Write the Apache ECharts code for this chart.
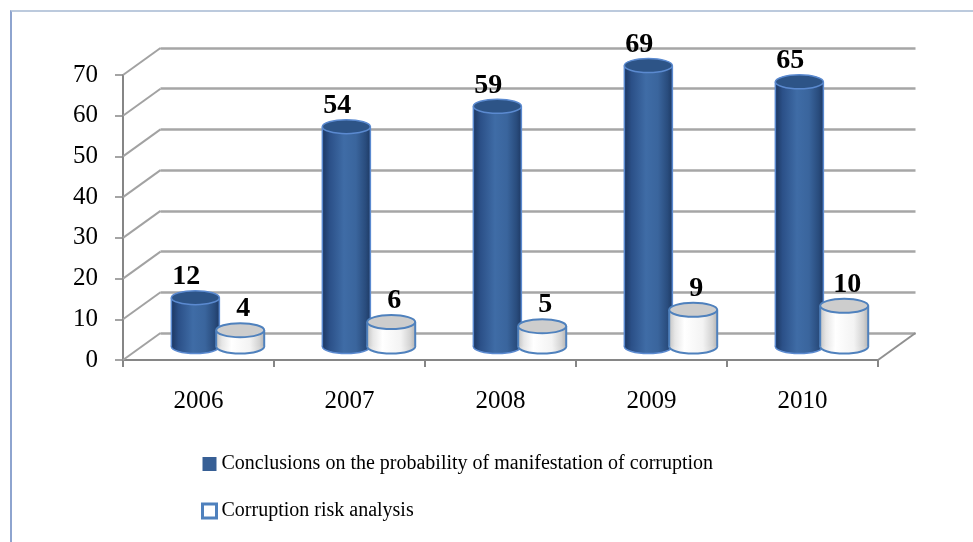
<!DOCTYPE html>
<html>
<head>
<meta charset="utf-8">
<script src="https://cdn.jsdelivr.net/npm/echarts@6/dist/echarts.min.js"></script>
<style>
  html, body { margin: 0; padding: 0; background: #fff; }
  #frame { position: absolute; left: 10px; top: 10px; width: 980px; height: 600px;
           border-top: 2px solid #bccadd; border-left: 2px solid #8ea4cf; }
  #main { position: absolute; left: 0; top: 0; width: 973px; height: 542px; }
</style>
</head>
<body>
<div id="frame"></div>
<div id="main"></div>
<script>
const years = ['2006', '2007', '2008', '2009', '2010'];
const conclusions = [12, 54, 59, 69, 65];
const riskAnalysis = [4, 6, 5, 9, 10];
const yTicks = [0, 10, 20, 30, 40, 50, 60, 70];

const nameA = 'Conclusions on the probability of manifestation of corruption';
const nameB = 'Corruption risk analysis';
const serif = "'Liberation Serif', 'Times New Roman', serif";

// 3d depth offset of the back wall
const DX = 37.5, DY = -27;

function grad(stops) {
  return {
    type: 'linear', x: 0, y: 0, x2: 1, y2: 0,
    colorStops: stops.map(s => ({ offset: s[0], color: s[1] }))
  };
}

const blueBody = grad([[0, '#1c3762'], [0.15, '#2b5088'], [0.45, '#3f6ca6'], [0.7, '#3a659d'], [0.9, '#294c7d'], [1, '#1e3a65']]);
const whiteBody = grad([[0, '#c4c4c4'], [0.12, '#e6e6e6'], [0.32, '#ffffff'], [0.7, '#f3f3f3'], [0.9, '#d2d2d2'], [1, '#b4b4b4']]);

function cylinder(look) {
  return function (params, api) {
    const idx = api.value(0);
    const v = api.value(1);
    const top = api.coord([idx, v]);
    const base = api.coord([idx, 0]);
    const band = api.size([1, 0])[0];
    const w = band * 0.318;
    const cx = top[0] + look.offset * band;
    const rx = w / 2, ry = 7;
    return {
      type: 'group',
      children: [
        { type: 'ellipse', shape: { cx: cx, cy: base[1], rx: rx, ry: ry },
          style: { fill: look.body, stroke: look.stroke, lineWidth: look.lw } },
        { type: 'rect', shape: { x: cx - rx, y: top[1], width: w, height: base[1] - top[1] },
          style: { fill: look.body } },
        { type: 'line', shape: { x1: cx - rx, y1: top[1], x2: cx - rx, y2: base[1] },
          style: { stroke: look.stroke, lineWidth: look.lw } },
        { type: 'line', shape: { x1: cx + rx, y1: top[1], x2: cx + rx, y2: base[1] },
          style: { stroke: look.stroke, lineWidth: look.lw } },
        { type: 'ellipse', shape: { cx: cx, cy: top[1], rx: rx, ry: ry },
          style: { fill: look.cap, stroke: look.stroke, lineWidth: look.lw } },
        { type: 'text', style: { text: String(v), x: cx + look.labelDx, y: top[1] - 21,
            align: 'center', verticalAlign: 'middle',
            font: 'bold 28px ' + serif, fill: '#000' } }
      ]
    };
  };
}

let chart = echarts.init(document.getElementById('main'));

let option = {
  animation: false,
  grid: [
    { left: 123, top: 75, width: 755, height: 285 },                       // front
    { left: 123 + DX, top: 75 + DY, width: 755, height: 285 },             // back wall
    { left: 123 + DX / 2, top: 75 + DY / 2, width: 755, height: 285 }      // bars
  ],
  xAxis: [
    {
      gridIndex: 0, type: 'category', data: years, boundaryGap: true,
      axisLine: { lineStyle: { color: '#868686', width: 2 } },
      axisTick: { show: true, length: 7, lineStyle: { color: '#868686', width: 2 } },
      axisLabel: { color: '#000', fontSize: 25, fontFamily: serif, margin: 29 }
    },
    { gridIndex: 1, type: 'category', data: years, show: false },
    { gridIndex: 2, type: 'category', data: years, show: false }
  ],
  yAxis: [
    {
      gridIndex: 0, type: 'value', min: 0, max: 70, interval: 10,
      axisLine: { show: true, lineStyle: { color: '#868686', width: 2 } },
      axisTick: { show: true, length: 8, lineStyle: { color: '#868686', width: 1.5 } },
      splitLine: { show: false },
      axisLabel: { color: '#000', fontSize: 25, fontFamily: serif, margin: 25 }
    },
    {
      gridIndex: 1, type: 'value', min: 0, max: 70, interval: 10,
      axisLine: { show: false }, axisTick: { show: false }, axisLabel: { show: false },
      splitLine: { show: true, lineStyle: { color: '#a6a6a6', width: 2.5 } }
    },
    { gridIndex: 2, type: 'value', min: 0, max: 70, interval: 10, show: false }
  ],
  legend: {
    orient: 'vertical', left: 201, top: 454, itemWidth: 14, itemHeight: 14, itemGap: 27,
    padding: 0,
    textStyle: { color: '#000', fontSize: 20, fontFamily: serif, lineHeight: 20 },
    data: [
      { name: nameA, icon: 'rect', itemStyle: { color: '#375f95', borderWidth: 0 } },
      { name: nameB, icon: 'rect', itemStyle: { color: '#ffffff', borderColor: '#4f81bd', borderWidth: 3 } }
    ]
  },
  series: [
    {
      // side wall and floor edges
      type: 'custom', xAxisIndex: 0, yAxisIndex: 0, silent: true,
      data: yTicks.map(v => [0, v]),
      renderItem: function (params, api) {
        const y = api.coord([0, api.value(1)])[1];
        const x0 = params.coordSys.x;
        const kids = [
          { type: 'line', shape: { x1: x0, y1: y, x2: x0 + DX, y2: y + DY },
            style: { stroke: '#a2a2a2', lineWidth: 2 } }
        ];
        if (api.value(1) === 0) {
          const x1 = x0 + params.coordSys.width;
          kids.push({ type: 'line', shape: { x1: x1, y1: y, x2: x1 + DX, y2: y + DY },
            style: { stroke: '#909090', lineWidth: 2 } });
        }
        return { type: 'group', children: kids };
      }
    },
    {
      name: nameA, type: 'custom', xAxisIndex: 2, yAxisIndex: 2,
      data: conclusions.map((v, i) => [i, v]),
      itemStyle: { color: '#375f95' },
      renderItem: cylinder({ offset: -0.145, body: blueBody, cap: '#2d5487', stroke: '#5b8ad0', lw: 1.5, labelDx: -9 })
    },
    {
      name: nameB, type: 'custom', xAxisIndex: 2, yAxisIndex: 2,
      data: riskAnalysis.map((v, i) => [i, v]),
      itemStyle: { color: '#ffffff' },
      renderItem: cylinder({ offset: 0.152, body: whiteBody, cap: '#cdcdcd', stroke: '#4f81bd', lw: 2, labelDx: 3 })
    }
  ]
};

chart.setOption(option);
</script>
</body>
</html>
